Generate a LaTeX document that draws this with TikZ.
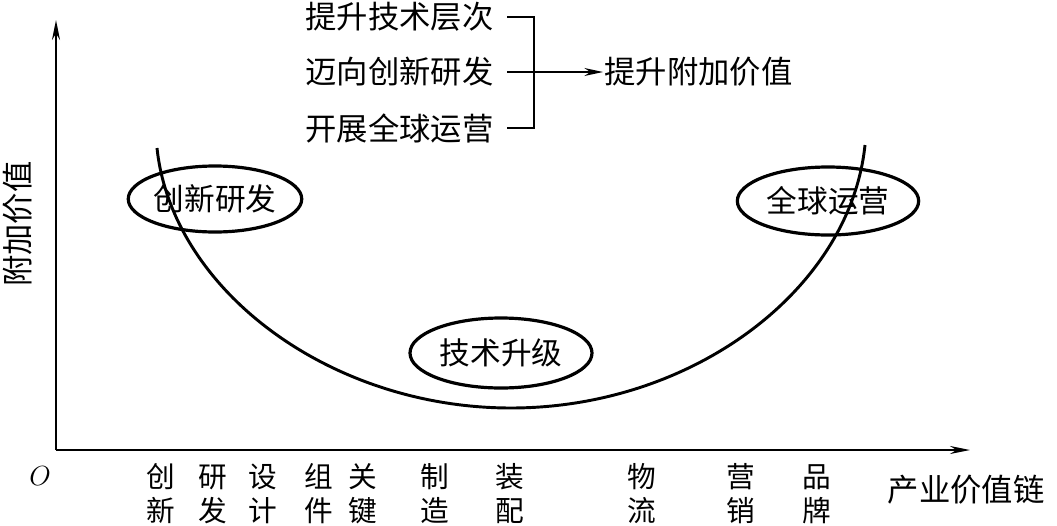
\documentclass[tikz,border=0pt]{standalone}
\usepackage{fontspec}
\setmainfont{Noto Sans CJK SC}
\usetikzlibrary{shapes.geometric,arrows.meta}

\tikzset{every picture/.style={line width=0.75pt}}
\tikzset{
  cjk/.style={inner sep=0.75pt,font=\fontsize{23.5}{23.5}\selectfont},
  chain/.style={inner sep=0.75pt,align=center,font=\fontsize{21.5}{25.5}\selectfont},
  bubble/.style={draw,ellipse,line width=2.4pt,inner sep=0pt,font=\fontsize{23}{23}\selectfont},
  axis/.style={line width=1.5pt,-{Stealth[length=15pt,width=6pt]}},
}

\begin{document}
\begin{tikzpicture}[x=0.75pt,y=0.75pt,yscale=-1,xscale=1]
\useasboundingbox (0,0) rectangle (1057,525);

%Axes
\coordinate (orig) at (56,450);
\coordinate (ytop) at (56,20);
\coordinate (xend) at (970,450);
\draw [axis] (orig) -- (ytop);
\draw [axis] (orig) -- (xend);

%Curve Lines
\draw [line width=2.2pt] (157,148) .. controls (172,290) and (330,408) .. (511,408) .. controls (692,408) and (850,290) .. (865,145);

%Ellipses
\node [bubble, minimum width=127.5pt, minimum height=49.5pt] (rd) at (215,199) {创新研发};
\node [bubble, minimum width=136pt, minimum height=51pt] (ops) at (828,201) {全球运营};
\node [bubble, minimum width=136.5pt, minimum height=52.5pt] (tech) at (501,353) {技术升级};

% Text Node
\node [cjk, anchor=east] (lvl) at (495,17) {提升技术层次};
\node [cjk, anchor=east] (inno) at (495,72) {迈向创新研发};
\node [cjk, anchor=east] (glob) at (495,128) {开展全球运营};
\node [cjk, anchor=west] (gain) at (603,72) {提升附加价值};

%Bracket
\coordinate (brk) at (534,72);
\draw [line width=1.1pt] ([xshift=9pt]lvl.east) -| (brk) |- ([xshift=9pt]glob.east);
\draw [line width=1.1pt, -{Stealth[length=14pt,width=6pt]}] ([xshift=9pt]inno.east) -- (gain.west);

% Text Node
\node [cjk, rotate=90] (yname) at (18,224) {附加价值};
\node [cjk] (xname) at (966,490) {产业价值链};
\node [inner sep=0.75pt, font=\fontsize{20}{20}\selectfont] (onode) at (40,476) {$O$};

%Value chain stages
\foreach \x/\a/\b [count=\i] in {161/创/新, 213/研/发, 263/设/计, 319/组/件, 363/关/键, 435/制/造, 510/装/配, 642/物/流, 741/营/销, 817/品/牌}
  \node [chain] (stage\i) at (\x,494) {\a\\\b};

\end{tikzpicture}
\end{document}
